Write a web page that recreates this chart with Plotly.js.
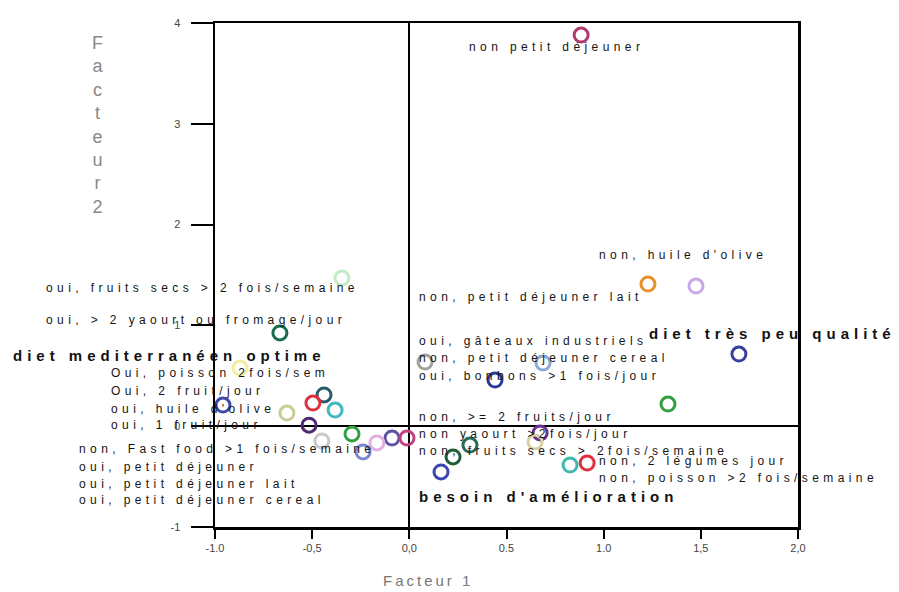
<!DOCTYPE html>
<html>
<head>
<meta charset="utf-8">
<script src="https://cdn.plot.ly/plotly-3.0.1.min.js"></script>
<style>html,body{margin:0;padding:0;background:#fff}</style>
</head>
<body>
<div id="chart" style="width:899px;height:592px"></div>
<script>
// Coordinates of the modalities on the two factors
const facteur1 = [0.884, -0.347, 1.228, 1.475, -0.666, 1.696, 0.081, 0.688, 0.441, -0.871,
                  -0.439, -0.496, -0.382, -0.959, -0.630, 1.331, -0.516, -0.295, -0.450, -0.089,
                  -0.012, -0.167, -0.238, 0.673, 0.647, 0.312, 0.225, 0.163, 0.827, 0.915];
const facteur2 = [3.88, 1.47, 1.41, 1.39, 0.925, 0.716, 0.637, 0.627, 0.458, 0.577,
                  0.31, 0.23, 0.16, 0.21, 0.13, 0.22, 0.01, -0.077, -0.146, -0.117,
                  -0.117, -0.166, -0.255, -0.067, -0.157, -0.187, -0.305, -0.454, -0.385, -0.365];
const pointColors = ['#b03a70', '#c4ecc4', '#e8902a', '#c8a8e8', '#1a6e50', '#3a40a0', '#a0a0a0', '#8aa8d8', '#2a3a9a', '#f2eea0',
                     '#2a5a6a', '#e03040', '#40b8c0', '#4048a8', '#cccc98', '#30a040', '#502a70', '#30a040', '#c8c8c8', '#6050a0',
                     '#c04080', '#e0b0e0', '#7a8ad0', '#6a3090', '#d8d0a0', '#2a6a5a', '#1e5e3a', '#3a48b0', '#40b8b0', '#e03040'];

const xTickVals = [-1, -0.5, 0, 0.5, 1, 1.5, 2];
const xTickText = ['-1.0', '-0,5', '0,0', '0.5', '1.0', '1,5', '2,0'];
const yTickVals = [-1, 0, 1, 2, 3, 4];
const yTickText = ['-1', '0', '1', '2', '3', '4'];

// Labels: text, left pixel, centre pixel, big?
const labelTexts = [
  'oui, fruits secs &gt; 2 fois/semaine', 'oui, &gt; 2 yaourt ou fromage/jour', 'diet mediterranéen optime',
  'Oui, poisson 2fois/sem', 'Oui, 2 fruit/jour', "oui, huile d'olive", 'oui, 1 fruit/jour',
  'non, Fast food &gt;1 fois/semaine', 'oui, petit déjeuner', 'oui, petit déjeuner lait', 'oui, petit déjeuner cereal',
  'non petit déjeuner', "non, huile d'olive", 'non, petit déjeuner lait', 'oui, gâteaux industriels',
  'diet très peu qualité', 'non, petit déjeuner cereal', 'oui, bonbons &gt;1 fois/jour', 'non, &gt;= 2 fruits/jour',
  'non yaourt &gt;2fois/jour', 'non, fruits secs &gt; 2fois/semaine', 'non, 2 légumes jour', 'non, poisson &gt;2 fois/semaine',
  "besoin d'amélioration"
];
const labelPx = [45, 45, 12, 110, 110, 110, 110, 78, 78, 78, 78,
                 468, 598, 418, 418, 648, 418, 418, 418, 418, 418, 598, 598, 418];
const labelPy = [288, 320, 355, 373, 391, 409, 425, 449, 467, 484, 500,
                 47, 255, 297, 341, 333, 358, 376, 417, 434, 451, 461, 478, 496];
const labelBig = [0,0,1,0,0,0,0,0,0,0,0, 0,0,0,0,1,0,0,0,0,0,0,0,1];

const L = 215, R = 798, T = 23, B = 527;
const px2x = p => (p - L) / (R - L);
const py2y = p => (B - p) / (B - T);

const annotations = labelTexts.map((t, i) => ({
  xref: 'paper', yref: 'paper', x: px2x(labelPx[i]), y: py2y(labelPy[i]),
  xanchor: 'left', yanchor: 'middle', showarrow: false, borderpad: 0,
  text: labelBig[i]
    ? '<span style="letter-spacing:5px">' + t + '</span>'
    : '<span style="letter-spacing:4.4px">' + t + '</span>',
  font: labelBig[i]
    ? {family: 'Liberation Sans, Arial, sans-serif', size: 15, color: '#111', weight: 'bold'}
    : {family: 'Liberation Sans, Arial, sans-serif', size: 12, color: '#151515'}
}));

annotations.push({
  xref: 'paper', yref: 'paper', x: px2x(97), y: py2y(125), xanchor: 'center', yanchor: 'middle',
  showarrow: false, text: 'F<br>a<br>c<br>t<br>e<br>u<br>r<br>2',
  font: {family: 'Liberation Sans, Arial, sans-serif', size: 18, color: '#888'}
});
annotations.push({
  xref: 'paper', yref: 'paper', x: px2x(428), y: py2y(580), xanchor: 'center', yanchor: 'middle',
  showarrow: false, text: '<span style="letter-spacing:3px">Facteur 1</span>',
  font: {family: 'Liberation Sans, Arial, sans-serif', size: 15, color: '#777'}
});

const trace = {
  type: 'scatter', mode: 'markers', x: facteur1, y: facteur2,
  marker: {symbol: 'circle-open', size: 14, color: pointColors, line: {width: 3}},
  hoverinfo: 'skip', cliponaxis: false
};

const axisCommon = {
  showgrid: false, showline: true, mirror: true, linecolor: '#000', linewidth: 2.5,
  zeroline: true, zerolinecolor: '#000', zerolinewidth: 2,
  ticks: 'outside', tickcolor: '#000', tickwidth: 2, tickmode: 'array',
  tickfont: {family: 'Liberation Sans, Arial, sans-serif', size: 11, color: '#444'}
};

const layout = {
  width: 899, height: 592,
  margin: {l: L, r: 899 - R, t: T, b: 592 - B, pad: 0},
  paper_bgcolor: '#fff', plot_bgcolor: '#fff', showlegend: false, hovermode: false,
  xaxis: Object.assign({}, axisCommon, {range: [-1, 2], tickvals: xTickVals, ticktext: xTickText, ticklen: 9}),
  yaxis: Object.assign({}, axisCommon, {range: [-1, 4], tickvals: yTickVals, ticktext: yTickText, ticklen: 22, ticklabelstandoff: 8}),
  annotations: annotations
};

Plotly.newPlot('chart', [trace], layout, {displayModeBar: false, staticPlot: true});
</script>
</body>
</html>
